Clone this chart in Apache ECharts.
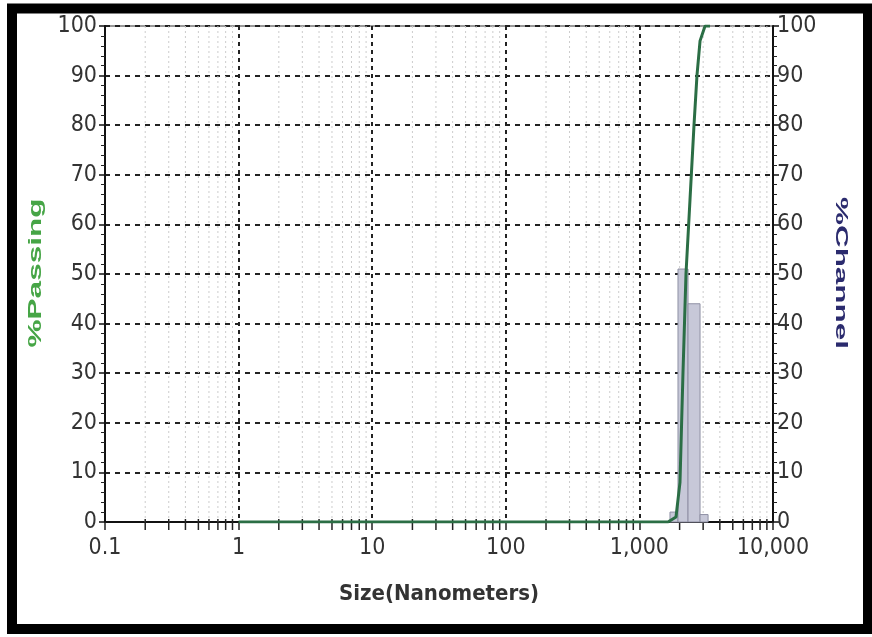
<!DOCTYPE html>
<html>
<head>
<meta charset="utf-8">
<script src="https://cdn.jsdelivr.net/npm/echarts@6/dist/echarts.min.js"></script>
<style>html,body{margin:0;padding:0;background:#fff}#c{width:872px;height:637px}</style>
</head>
<body>
<div id="c"></div>
<script>
// ---- data ----
const sizeNm      = [1, 1637, 1879, 2013, 2119, 2232, 2392, 2563, 2697, 2844, 3100, 3376];
const passingPct  = [0, 0, 1, 8, 30, 50, 65, 80, 90, 97, 100, 100];
const binLowNm    = [1694, 1945, 2312, 2844];
const binHighNm   = [1945, 2312, 2844, 3266];
const channelPct  = [2, 51, 44, 1.5];
const xTickValues = [0.1, 1, 10, 100, 1000, 10000];
const xTickLabels = ['0.1', '1', '10', '100', '1,000', '10,000'];
const xTitle = 'Size(Nanometers)';
const yLeftTitle = '%Passing';
const yRightTitle = '%Channel';

// minor log grid positions (2..9 of each decade)
const minorVals = [];
for (let d = -1; d < 4; d++) for (let k = 2; k <= 9; k++) minorVals.push(k * Math.pow(10, d));

const NARROW = '"Liberation Sans Narrow","Arial Narrow","DejaVu Sans Condensed",sans-serif';
const chart = echarts.init(document.getElementById('c'), null, {renderer: 'canvas'});

const yAxisBase = {
  type: 'value', min: 0, max: 100, interval: 10,
  axisLine: {show: true, lineStyle: {color: '#111', width: 2}},
  axisTick: {show: true, length: 6, lineStyle: {color: '#111', width: 1.5}},
  minorTick: {show: true, splitNumber: 5, length: 4, lineStyle: {color: '#222', width: 1}},
  axisLabel: {fontFamily: NARROW, fontSize: 23, color: '#333'}
};

chart.setOption({
  animation: false,
  backgroundColor: '#fff',
  grid: {left: 105, right: 99, top: 26, bottom: 115, show: true, borderColor: '#999', borderWidth: 2, backgroundColor: '#fff'},
  xAxis: {
    type: 'log', logBase: 10, min: 0.1, max: 10000,
    name: xTitle, nameLocation: 'middle', nameGap: 61,
    nameTextStyle: {fontFamily: NARROW, fontWeight: 'bold', fontSize: 22, color: '#333'},
    axisLine: {show: true, lineStyle: {color: '#111', width: 2}},
    axisTick: {show: true, length: 8, lineStyle: {color: '#222', width: 1.5}},
    splitLine: {show: true, lineStyle: {color: '#222', width: 2, type: [4, 4]}},
    axisLabel: {
      fontFamily: NARROW, fontSize: 23, color: '#333', margin: 15,
      formatter: function (v) {
        const i = xTickValues.indexOf(Math.pow(10, Math.round(Math.log10(v))));
        return i >= 0 ? xTickLabels[i] : '';
      }
    }
  },
  yAxis: [
    Object.assign({}, yAxisBase, {
      position: 'left',
      axisLabel: Object.assign({}, yAxisBase.axisLabel, {margin: 8}),
      splitLine: {show: true, lineStyle: {color: '#222', width: 2, type: [5, 5]}}
    }),
    Object.assign({}, yAxisBase, {
      position: 'right',
      axisLabel: Object.assign({}, yAxisBase.axisLabel, {margin: 4}),
      splitLine: {show: false}
    })
  ],
  graphic: [
    {type: 'rect', shape: {x: 12, y: 8.5, width: 856, height: 620.5},
     style: {fill: 'none', stroke: '#000', lineWidth: 10}, z: 100},
    {type: 'text', x: 36, y: 273, rotation: Math.PI / 2, scaleX: 1.75,
     style: {text: yLeftTitle, font: 'bold 18px "Liberation Sans", Arial, sans-serif', fill: '#46a546', align: 'center', verticalAlign: 'middle'}},
    {type: 'text', x: 841, y: 273, rotation: -Math.PI / 2, scaleX: 1.85,
     style: {text: yRightTitle, font: 'bold 17px "Liberation Sans", Arial, sans-serif', fill: '#2b2b6e', align: 'center', verticalAlign: 'middle'}}
  ],
  series: [
    {
      name: 'minor', type: 'custom', silent: true, z: 1,
      data: minorVals.map(v => [v, 0]),
      encode: {x: 0, y: 1},
      renderItem: function (params, api) {
        const top = api.coord([api.value(0), 100]);
        const bot = api.coord([api.value(0), 0]);
        return {type: 'group', children: [
          {type: 'line', shape: {x1: top[0], y1: top[1], x2: bot[0], y2: bot[1]},
           style: {stroke: '#cccccc', lineWidth: 1, lineDash: [2, 3]}},
          {type: 'line', shape: {x1: bot[0], y1: bot[1] - 3, x2: bot[0], y2: bot[1] + 8},
           style: {stroke: '#222', lineWidth: 1.5}}
        ]};
      }
    },
    {
      name: yRightTitle, type: 'custom', yAxisIndex: 1, z: 3,
      data: binLowNm.map((lo, i) => [lo, binHighNm[i], channelPct[i]]),
      encode: {x: [0, 1], y: 2},
      renderItem: function (params, api) {
        const p0 = api.coord([api.value(0), api.value(2)]);
        const p1 = api.coord([api.value(1), 0]);
        return {type: 'rect', shape: {x: p0[0], y: p0[1], width: p1[0] - p0[0], height: p1[1] - p0[1]},
                style: {fill: '#c7c8d8', stroke: '#8f90a4', lineWidth: 1}};
      }
    },
    {
      name: yLeftTitle, type: 'line', z: 5, showSymbol: false, smooth: false,
      data: sizeNm.map((s, i) => [s, passingPct[i]]),
      lineStyle: {color: '#2b6e45', width: 3}
    }
  ]
});
</script>
</body>
</html>
